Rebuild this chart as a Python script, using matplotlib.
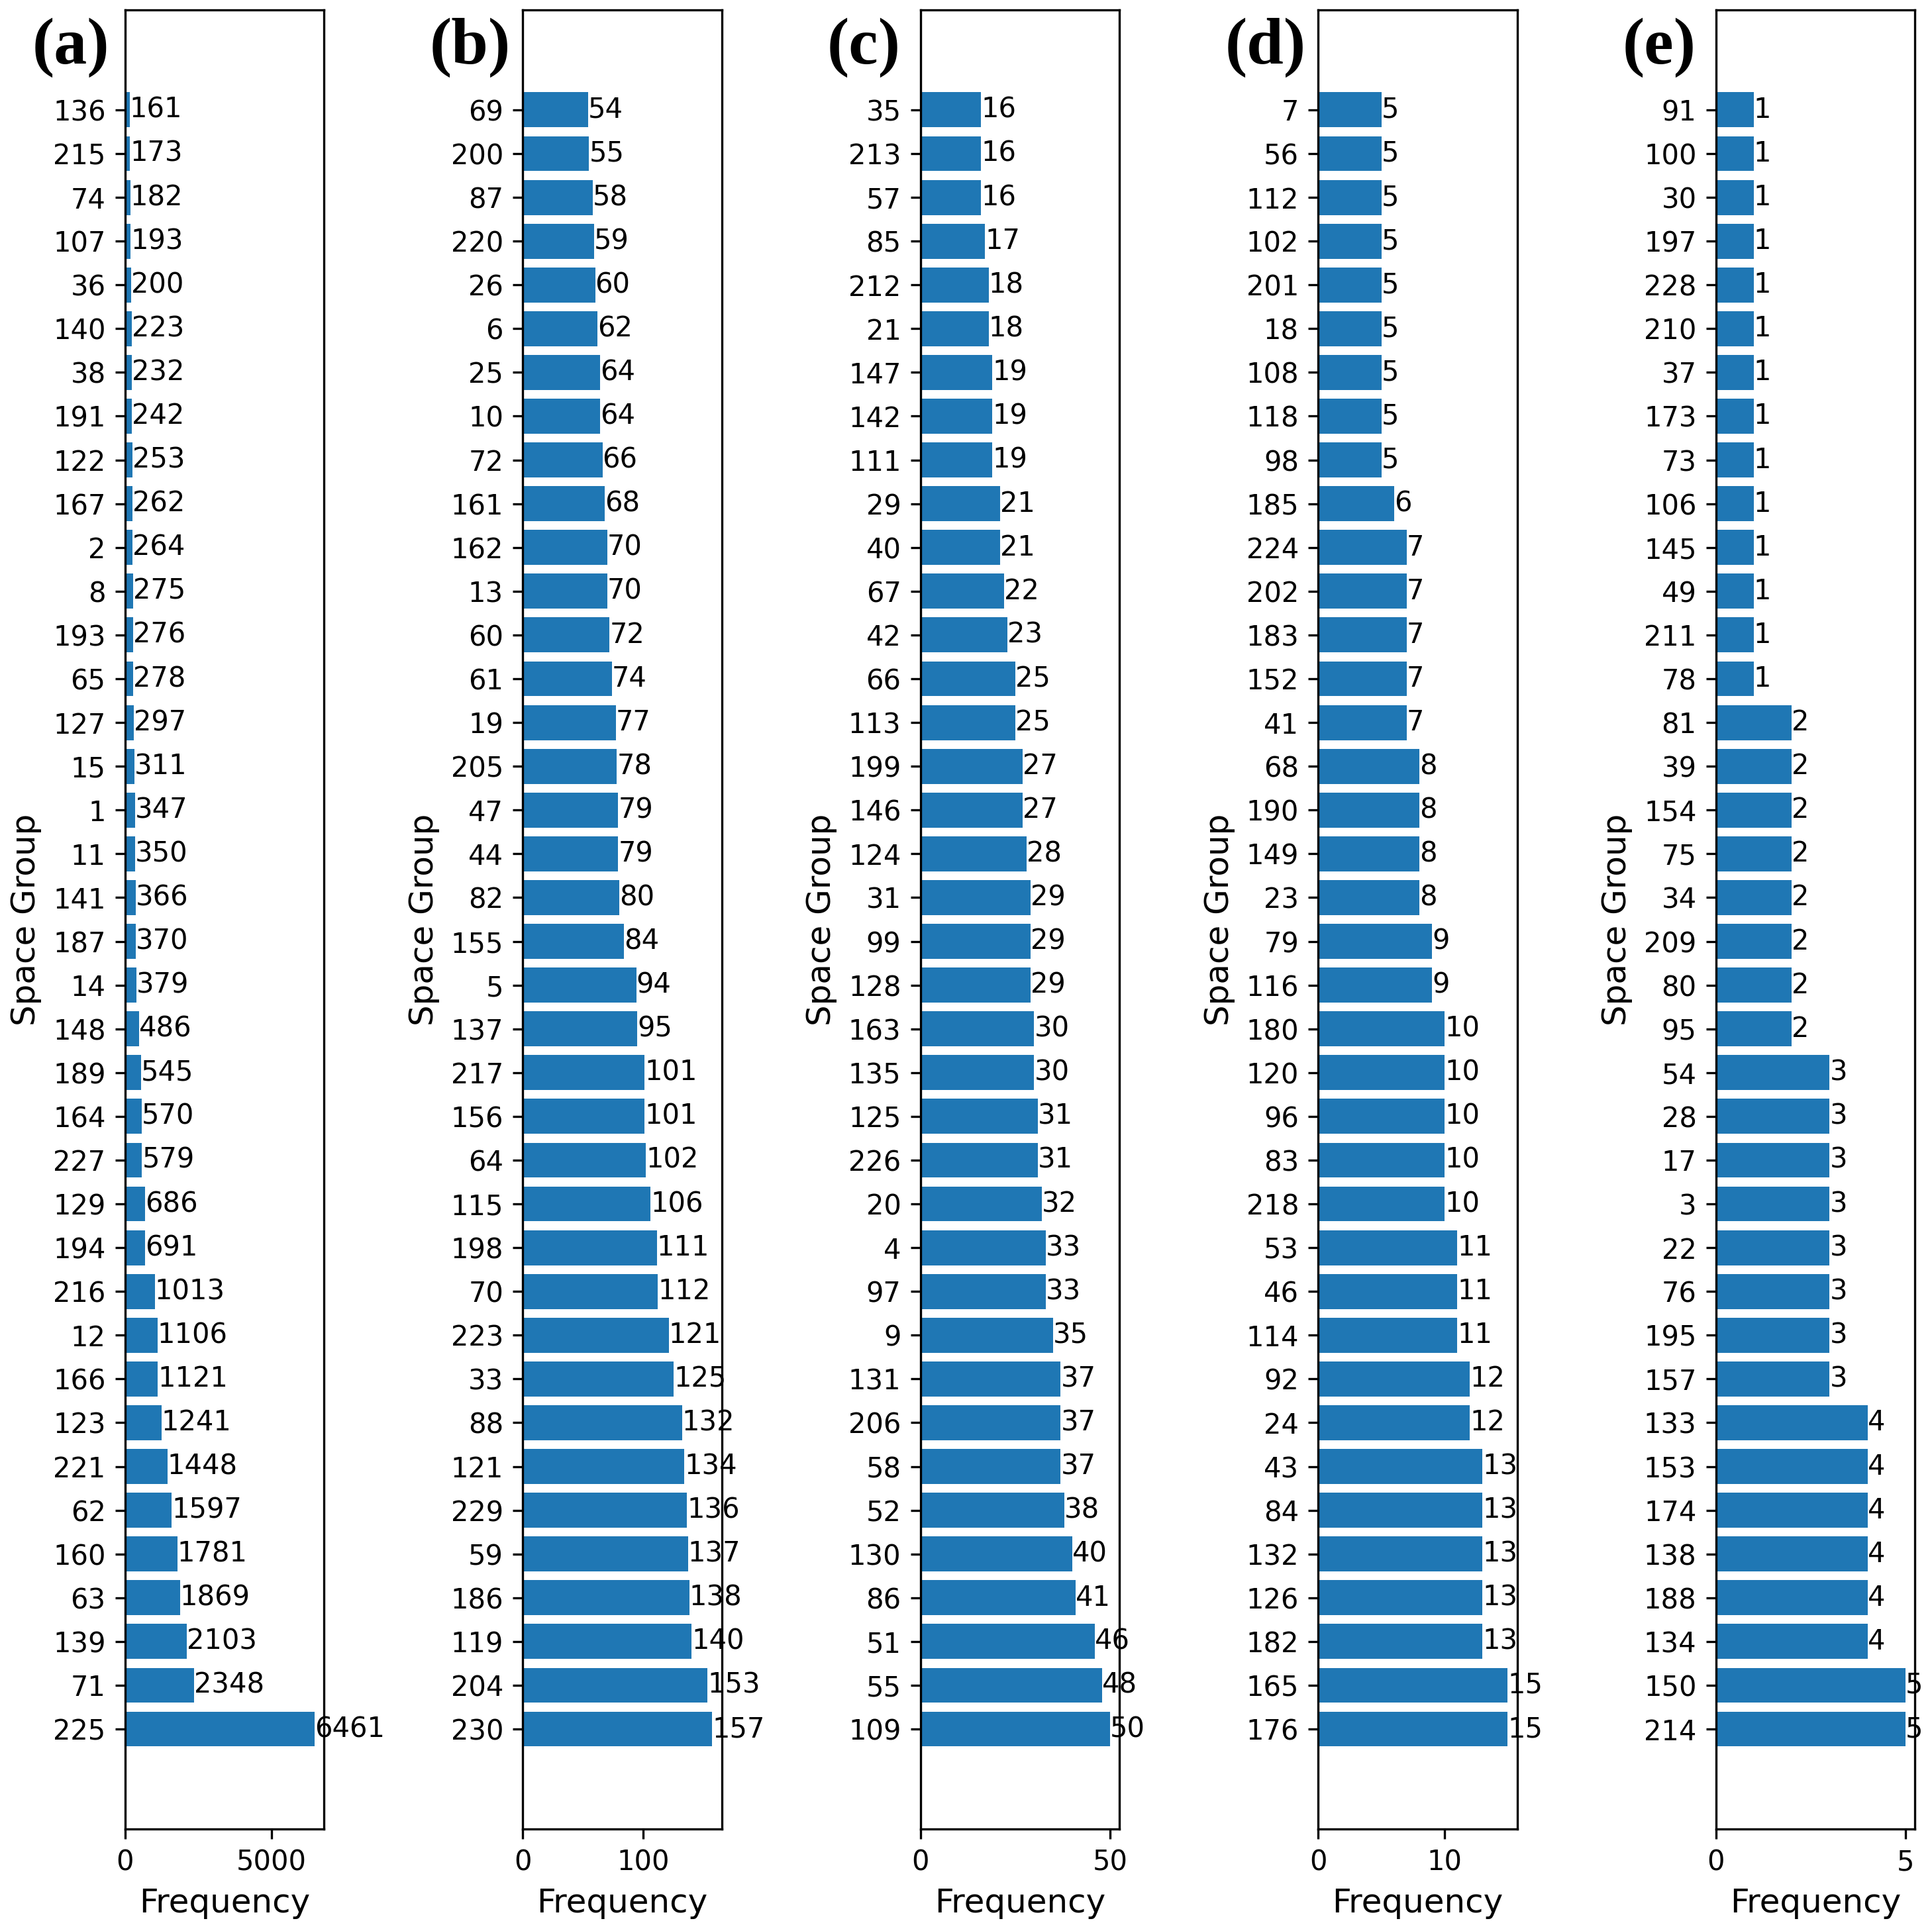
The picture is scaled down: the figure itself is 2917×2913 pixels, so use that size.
import matplotlib
matplotlib.use("Agg")
import matplotlib.pyplot as plt

# space groups and counts, listed bottom bar first
groups_a = ["225", "71", "139", "63", "160", "62", "221", "123", "166", "12",
            "216", "194", "129", "227", "164", "189", "148", "14", "187", "141",
            "11", "1", "15", "127", "65", "193", "8", "2", "167", "122",
            "191", "38", "140", "36", "107", "74", "215", "136"]
freq_a = [6461, 2348, 2103, 1869, 1781, 1597, 1448, 1241, 1121, 1106,
          1013, 691, 686, 579, 570, 545, 486, 379, 370, 366,
          350, 347, 311, 297, 278, 276, 275, 264, 262, 253,
          242, 232, 223, 200, 193, 182, 173, 161]

groups_b = ["230", "204", "119", "186", "59", "229", "121", "88", "33", "223",
            "70", "198", "115", "64", "156", "217", "137", "5", "155", "82",
            "44", "47", "205", "19", "61", "60", "13", "162", "161", "72",
            "10", "25", "6", "26", "220", "87", "200", "69"]
freq_b = [157, 153, 140, 138, 137, 136, 134, 132, 125, 121,
          112, 111, 106, 102, 101, 101, 95, 94, 84, 80,
          79, 79, 78, 77, 74, 72, 70, 70, 68, 66,
          64, 64, 62, 60, 59, 58, 55, 54]

groups_c = ["109", "55", "51", "86", "130", "52", "58", "206", "131", "9",
            "97", "4", "20", "226", "125", "135", "163", "128", "99", "31",
            "124", "146", "199", "113", "66", "42", "67", "40", "29", "111",
            "142", "147", "21", "212", "85", "57", "213", "35"]
freq_c = [50, 48, 46, 41, 40, 38, 37, 37, 37, 35,
          33, 33, 32, 31, 31, 30, 30, 29, 29, 29,
          28, 27, 27, 25, 25, 23, 22, 21, 21, 19,
          19, 19, 18, 18, 17, 16, 16, 16]

groups_d = ["176", "165", "182", "126", "132", "84", "43", "24", "92", "114",
            "46", "53", "218", "83", "96", "120", "180", "116", "79", "23",
            "149", "190", "68", "41", "152", "183", "202", "224", "185", "98",
            "118", "108", "18", "201", "102", "112", "56", "7"]
freq_d = [15, 15, 13, 13, 13, 13, 13, 12, 12, 11,
          11, 11, 10, 10, 10, 10, 10, 9, 9, 8,
          8, 8, 8, 7, 7, 7, 7, 7, 6, 5,
          5, 5, 5, 5, 5, 5, 5, 5]

groups_e = ["214", "150", "134", "188", "138", "174", "153", "133", "157", "195",
            "76", "22", "3", "17", "28", "54", "95", "80", "209", "34",
            "75", "154", "39", "81", "78", "211", "49", "145", "106", "73",
            "173", "37", "210", "228", "197", "30", "100", "91"]
freq_e = [5, 5, 4, 4, 4, 4, 4, 4, 3, 3,
          3, 3, 3, 3, 3, 3, 2, 2, 2, 2,
          2, 2, 2, 2, 1, 1, 1, 1, 1, 1,
          1, 1, 1, 1, 1, 1, 1, 1]

panels = [
    ("(a)", groups_a, freq_a, [0, 5000]),
    ("(b)", groups_b, freq_b, [0, 100]),
    ("(c)", groups_c, freq_c, [0, 50]),
    ("(d)", groups_d, freq_d, [0, 10]),
    ("(e)", groups_e, freq_e, [0, 5]),
]

fig = plt.figure(figsize=(2917 / 300, 2913 / 300), dpi=300)

first_left = 0.0647
step = 0.20586
width = 0.1030
bottom = 0.0517
top = 0.9950

for k, (tag, groups, freq, xt) in enumerate(panels):
    left = first_left + k * step
    ax = fig.add_axes([left, bottom, width, top - bottom])
    pos = list(range(len(groups)))
    bars = ax.barh(pos, freq, color="#1f77b4")
    ax.bar_label(bars, labels=[str(v) for v in freq], fontsize=10)
    ax.set_yticks(pos)
    ax.set_yticklabels(groups, fontsize=10)
    ax.set_xticks(xt)
    ax.tick_params(axis="x", labelsize=10)
    ax.set_xlabel("Frequency", fontsize=12)
    ax.set_ylabel("Space Group", fontsize=12)
    fig.text(left - 0.0482, 0.991, tag, fontsize=24, fontweight="bold",
             family="Liberation Serif", ha="left", va="top")

fig.savefig("out.png", dpi=300)
